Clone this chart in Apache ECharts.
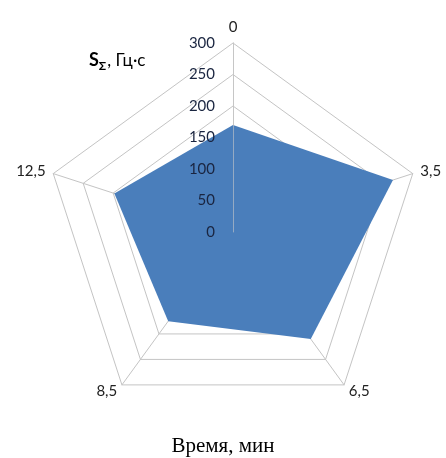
<!DOCTYPE html>
<html><head><meta charset="utf-8">
<script src="https://cdn.jsdelivr.net/npm/echarts@6/dist/echarts.min.js"></script>
<style>html,body{margin:0;padding:0;background:#fff}#c{width:446px;height:458px}</style>
</head><body><div id="c"></div>
<script>
const categories = ['0', '3,5', '6,5', '8,5', '12,5'];
const values = [170, 267, 210, 175, 198];
const axisMax = 300;
const tickStep = 50;

// radar draws counter-clockwise; reorder so the categories run clockwise
const order = [0, 4, 3, 2, 1];
const catsCW = order.map(i => categories[i]);
const valsCW = order.map(i => values[i]);

const chart = echarts.init(document.getElementById('c'));
const font = 'Lato, "Open Sans", "Liberation Sans", sans-serif';
chart.setOption({
  backgroundColor: '#fff',
  animation: false,
  title: [{
    text: '{s|S}{sub|Σ}{r|, Гц·с}',
    left: 84, top: 44,
    textStyle: {
      fontWeight: 'normal',
      rich: {
        s: {fontFamily: font, fontWeight: 'bold', fontSize: 18, color: '#000', verticalAlign: 'bottom', lineHeight: 20},
        sub: {fontFamily: font, fontWeight: 'bold', fontSize: 12, color: '#000', verticalAlign: 'bottom', lineHeight: 14, padding: [0, 1, -3, 0]},
        r: {fontFamily: font, fontWeight: 'normal', fontSize: 17, color: '#000', verticalAlign: 'bottom', lineHeight: 20}
      }
    }
  }, {
    text: 'Время, мин',
    left: 'center', top: 431,
    textStyle: {fontFamily: '"Liberation Serif", "DejaVu Serif", serif', fontSize: 21, fontWeight: 'normal', color: '#000'}
  }],
  radar: {
    center: [233, 232],
    radius: 189,
    startAngle: 90,
    shape: 'polygon',
    splitNumber: axisMax / tickStep,
    indicator: catsCW.map(c => ({name: c, min: 0, max: axisMax})),
    axisName: {color: '#222', fontFamily: font, fontSize: 15},
    nameGap: 8,
    splitLine: {lineStyle: {color: '#c4c4c4', width: 1}},
    splitArea: {show: false},
    axisLine: {lineStyle: {color: '#c4c4c4', width: 1}},
    axisTick: {show: false},
    axisLabel: {show: false}
  },
  polar: {center: [233, 232], radius: 189},
  angleAxis: {show: false, startAngle: 90, min: 0, max: 360},
  radiusAxis: {
    min: 0, max: axisMax, interval: tickStep,
    z: 10,
    axisLine: {show: true, lineStyle: {color: 'rgba(200,200,200,0.6)', width: 1}},
    axisTick: {show: false},
    splitLine: {show: false},
    axisLabel: {show: true, margin: 18, color: '#1a2540', fontFamily: font, fontSize: 15, align: 'right', verticalAlign: 'middle'}
  },
  series: [{
    type: 'radar',
    z: 3,
    symbol: 'none',
    data: [{value: valsCW}],
    lineStyle: {width: 0, color: '#4a7ebb'},
    areaStyle: {color: '#4a7ebb', opacity: 1}
  }]
});
</script></body></html>
